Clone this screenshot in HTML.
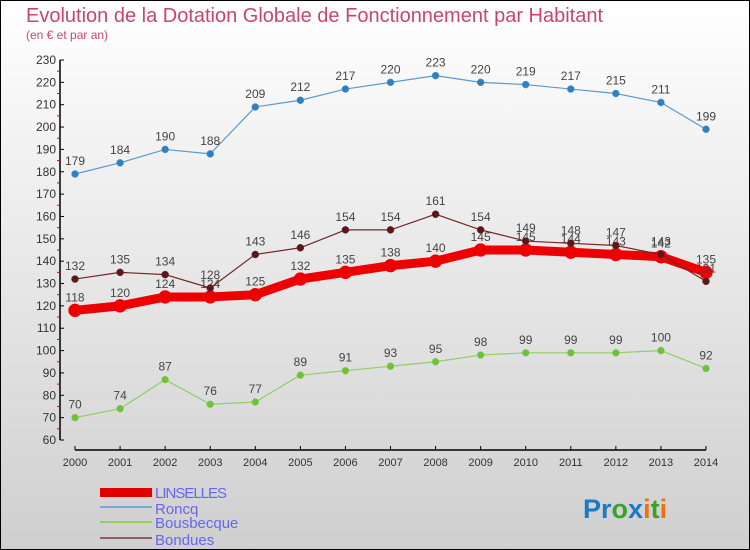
<!DOCTYPE html>
<html><head><meta charset="utf-8"><style>
body{margin:0;width:750px;height:550px;overflow:hidden;font-family:"Liberation Sans",sans-serif}
#c{position:absolute;left:0;top:0;width:748px;height:548px;border:1px solid #000;background:linear-gradient(#ffffff,#cfcfcf)}
</style></head><body>
<div id="c"></div>
<svg id="s" width="750" height="550" style="position:absolute;left:0;top:0">
<text x="26" y="22" font-size="20" fill="#c8466e">Evolution de la Dotation Globale de Fonctionnement par Habitant</text>
<text x="26" y="39" font-size="12" fill="#c8466e">(en € et par an)</text>
<g id="axes"></g><g id="series"></g>
<g>
<rect x="100" y="488" width="52" height="9" fill="#e00000"/>
<text x="155" y="498" font-size="15" fill="#6666ee" textLength="72">LINSELLES</text>
<rect x="100" y="506" width="52" height="2" fill="#7aaad0"/>
<text x="155" y="514" font-size="15" fill="#6666ee">Roncq</text>
<rect x="100" y="521" width="52" height="2" fill="#90d060"/>
<text x="155" y="528" font-size="15" fill="#6666ee">Bousbecque</text>
<rect x="100" y="537" width="52" height="2" fill="#906060"/>
<text x="155" y="545" font-size="15" fill="#6666ee">Bondues</text>
</g>
<text x="583" y="518" font-size="27" font-weight="bold"><tspan fill="#1a7ac8">Pr</tspan><tspan fill="#3aa030">o</tspan><tspan fill="#1a7ac8">x</tspan><tspan fill="#f07010">i</tspan><tspan fill="#3aa030">t</tspan><tspan fill="#f07010">i</tspan></text>
</svg>
<script>
const years=[2000,2001,2002,2003,2004,2005,2006,2007,2008,2009,2010,2011,2012,2013,2014];
const yTicks=[60,70,80,90,100,110,120,130,140,150,160,170,180,190,200,210,220,230];
const linselles=[118,120,124,124,125,132,135,138,140,145,145,144,143,142,135];
const roncq=[179,184,190,188,209,212,217,220,223,220,219,217,215,211,199];
const bousbecque=[70,74,87,76,77,89,91,93,95,98,99,99,99,100,92];
const bondues=[132,135,134,128,143,146,154,154,161,154,149,148,147,143,131];
const NS='http://www.w3.org/2000/svg';
const X=i=>75+i*(706-75)/(years.length-1);
const Y=v=>440-(v-60)*380/170;
function mk(t,a,p){const e=document.createElementNS(NS,t);for(const k in a)e.setAttribute(k,a[k]);p.appendChild(e);return e;}
const ax=document.getElementById('axes');
let e=mk('line',{x1:60,y1:Y(230),x2:60,y2:Y(60),stroke:'#000','stroke-width':1.5},ax);


e=mk('line',{x1:75,y1:450,x2:706,y2:450,stroke:'#000','stroke-width':1.5},ax);


yTicks.forEach(v=>{
 mk('line',{x1:60,y1:Y(v),x2:64,y2:Y(v),stroke:'#000'},ax);
 if(v<230)mk('line',{x1:57,y1:Y(v+5),x2:60,y2:Y(v+5),stroke:'#e00000'},ax);
 const t=mk('text',{x:56,y:Y(v)+4,'font-size':12,fill:'#333','text-anchor':'end'},ax);t.textContent=v;
 
 
});
years.forEach((y,i)=>{
 mk('line',{x1:X(i),y1:446,x2:X(i),y2:450,stroke:'#000'},ax);
 const t=mk('text',{x:X(i),y:466,'font-size':11,fill:'#333','text-anchor':'middle'},ax);t.textContent=y;
 
 
});
const sg=document.getElementById('series');
function series(name,data,color,w,r,mcol){
 const g=mk('g',{},sg);
 
 
 mk('polyline',{points:data.map((v,i)=>X(i)+','+Y(v)).join(' '),fill:'none',stroke:color,'stroke-width':w,'stroke-linejoin':'round'},g);
 data.forEach((v,i)=>{
  const c=mk('circle',{cx:X(i),cy:Y(v),r:r,fill:mcol,stroke:color,'stroke-width':0.5},g);
  
  
  const t=mk('text',{x:X(i),y:Y(v)-9,'font-size':12,fill:'#444','text-anchor':'middle'},g);t.textContent=v;
  
  
 });
}
series('roncq',roncq,'#5a9ad0',1.2,3.5,'#3080c0');
series('bousbecque',bousbecque,'#90d060',1.2,3.5,'#70c040');
series('linselles',linselles,'#ee0000',9,6.5,'#ee0000');
series('bondues',bondues,'#702828',1.2,3.5,'#5a1818');
</script>
</body></html>
